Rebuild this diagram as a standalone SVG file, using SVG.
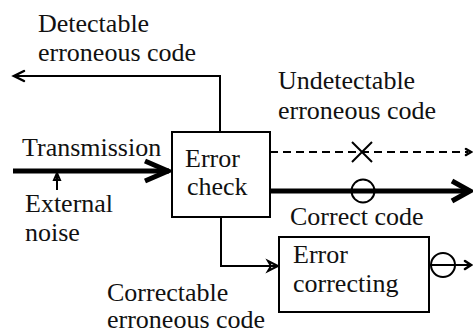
<svg xmlns="http://www.w3.org/2000/svg" width="473" height="332" viewBox="0 0 473 332" font-family="Liberation Serif, Times New Roman, serif" font-size="26">
<defs>
<style>
.box{fill:#fff;stroke:#000;stroke-width:2}
.ln{fill:none;stroke:#000;stroke-width:2}
.thick{fill:none;stroke:#000;stroke-width:5}
.dash{fill:none;stroke:#000;stroke-width:2;stroke-dasharray:8 5}
.head{fill:none;stroke:#000;stroke-width:2.5;stroke-linecap:round;stroke-linejoin:miter}
.headT{fill:none;stroke:#000;stroke-width:5;stroke-linejoin:miter}
</style>
</defs>
<rect width="473" height="332" fill="#fff"/>
<g id="connectors">
<path class="ln" d="M220,132 V76 H14"/>
<path class="head" d="M24,71 L14,76 L24,81"/>
<path class="thick" d="M13,171 H169"/>
<path class="headT" d="M145,161 L168,171 L145,181"/>
<path class="ln" d="M57,190 V175"/>
<path class="ln" d="M54,180 L57,173 L60,180 Z" fill="#000"/>
<path class="dash" d="M270,152 H468"/>
<path class="head" d="M466,149 L471,152 L466,155"/>
<path class="ln" d="M352,142 L372,162 M372,142 L352,162"/>
<path class="thick" d="M270,191 H469"/>
<path class="headT" d="M452,181 L470,191 L452,201"/>
<circle class="ln" cx="363" cy="191" r="11.5" fill="none"/>
<path class="ln" d="M221,217 V266 H276"/>
<path class="ln" d="M268,261 L278,266 L268,271 L271,266 Z" fill="#000"/>
<path class="ln" d="M429,265 H470"/>
<path class="head" d="M465,261 L471,265 L465,269"/>
<circle class="ln" cx="443" cy="265" r="12" fill="#fff"/>
</g>
<g id="error-check" fill="#111">
<rect class="box" x="172" y="132" width="98" height="85"/>
<text x="185" y="167">Error</text>
<text x="187" y="195">check</text>
</g>
<g id="error-correcting" fill="#111">
<rect class="box" x="279" y="237" width="150" height="75"/>
<text x="293" y="263">Error</text>
<text x="293" y="292">correcting</text>
</g>
<g id="labels" fill="#111">
<text x="38" y="32">Detectable</text>
<text x="38" y="61">erroneous code</text>
<text x="22" y="156">Transmission</text>
<text x="25" y="212">External</text>
<text x="25" y="241">noise</text>
<text x="278" y="89">Undetectable</text>
<text x="278" y="119">erroneous code</text>
<text x="290" y="225">Correct code</text>
<text x="107" y="301">Correctable</text>
<text x="107" y="328">erroneous code</text>
</g>
</svg>
